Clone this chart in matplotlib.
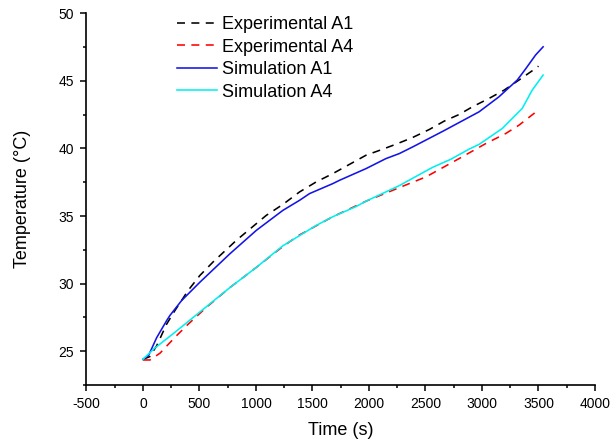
import matplotlib
matplotlib.use("Agg")
import matplotlib.pyplot as plt
from matplotlib.ticker import MultipleLocator

plt.rcParams['font.family'] = ['Liberation Sans', 'DejaVu Sans']
plt.rcParams['axes.unicode_minus'] = False

# Experimental A1
t_exp1 = [0, 60, 121, 209, 282, 400, 503, 620, 826, 1091, 1238, 1385, 1532,
          1680, 1974, 2097, 2238, 2386, 2533, 2665, 2797, 2915, 3062, 3195,
          3327, 3474, 3500]
T_exp1 = [24.4, 24.6, 25.4, 27.0, 28.0, 29.5, 30.6, 31.6, 33.2, 35.05, 35.86,
          36.78, 37.52, 38.14, 39.5, 39.87, 40.31, 40.81, 41.4, 42.02, 42.51,
          43.08, 43.7, 44.31, 45.06, 45.92, 46.09]

# Experimental A4
t_exp4 = [0, 62, 150, 297, 400, 562, 768, 1003, 1238, 1385, 1680, 1974, 2356,
          2503, 2797, 3033, 3209, 3327, 3497]
T_exp4 = [24.35, 24.35, 24.85, 26.15, 27.0, 28.25, 29.7, 31.2, 32.75, 33.6,
          34.95, 36.1, 37.4, 37.89, 39.25, 40.36, 41.1, 41.72, 42.83]

# Simulation A1
t_sim1 = [0, 50, 121, 209, 238, 342, 503, 768, 1003, 1238, 1385, 1474, 1680,
          1738, 1974, 2150, 2268, 2386, 2660, 2974, 3150, 3312, 3383, 3474, 3541]
T_sim1 = [24.4, 24.7, 26.0, 27.26, 27.64, 28.75, 30.1, 32.2, 33.94, 35.42,
          36.16, 36.66, 37.4, 37.64, 38.51, 39.25, 39.62, 40.11, 41.3, 42.71,
          43.82, 45.06, 45.85, 46.91, 47.52]

# Simulation A4
t_sim4 = [0, 100, 268, 474, 768, 1003, 1238, 1385, 1532, 1680, 1885, 1974,
          2179, 2268, 2562, 2724, 2886, 2974, 3180, 3356, 3444, 3541]
T_sim4 = [24.4, 25.2, 26.3, 27.7, 29.7, 31.2, 32.8, 33.55, 34.3, 34.95, 35.7,
          36.1, 36.9, 37.25, 38.6, 39.2, 39.95, 40.3, 41.48, 42.96, 44.31, 45.43]

fig = plt.figure(figsize=(6.16, 4.46), dpi=100)
ax = fig.add_axes([0.1404, 0.1368, 0.8255, 0.8334])

dash = (0, (5, 4))
ax.plot(t_exp1, T_exp1, color='black', ls=dash, lw=1.15, label='Experimental A1')
ax.plot(t_exp4, T_exp4, color='red', ls=dash, lw=1.15, label='Experimental A4')
ax.plot(t_sim1, T_sim1, color='#1414e6', lw=1.15, label='Simulation A1')
ax.plot(t_sim4, T_sim4, color='#00f0f0', lw=1.15, label='Simulation A4')

ax.set_xlim(-500, 4000)
ax.set_ylim(22.5, 50)
ax.xaxis.set_major_locator(MultipleLocator(500))
ax.xaxis.set_minor_locator(MultipleLocator(250))
ax.yaxis.set_major_locator(MultipleLocator(5))
ax.yaxis.set_minor_locator(MultipleLocator(2.5))
ax.set_yticks([25, 30, 35, 40, 45, 50])
ax.tick_params(which='both', direction='out', width=1.1, labelsize=10)
ax.tick_params(which='major', length=4.5, pad=4.5)
ax.tick_params(which='minor', length=2.3)

for s in ['top', 'right']:
    ax.spines[s].set_visible(False)
for s in ['left', 'bottom']:
    ax.spines[s].set_linewidth(1.2)

ax.set_xlabel('Time (s)', fontsize=13)
ax.set_ylabel('Temperature (°C)', fontsize=13)
ax.xaxis.set_label_coords(0.5, -0.10)
ax.yaxis.set_label_coords(-0.109, 0.5)

ax.legend(loc='upper left', bbox_to_anchor=(0.178, 0.992), frameon=False,
          fontsize=13, handlelength=2.2, labelspacing=0.3, handletextpad=0.3,
          borderpad=0, borderaxespad=0)

fig.savefig('out.png', dpi=100)
